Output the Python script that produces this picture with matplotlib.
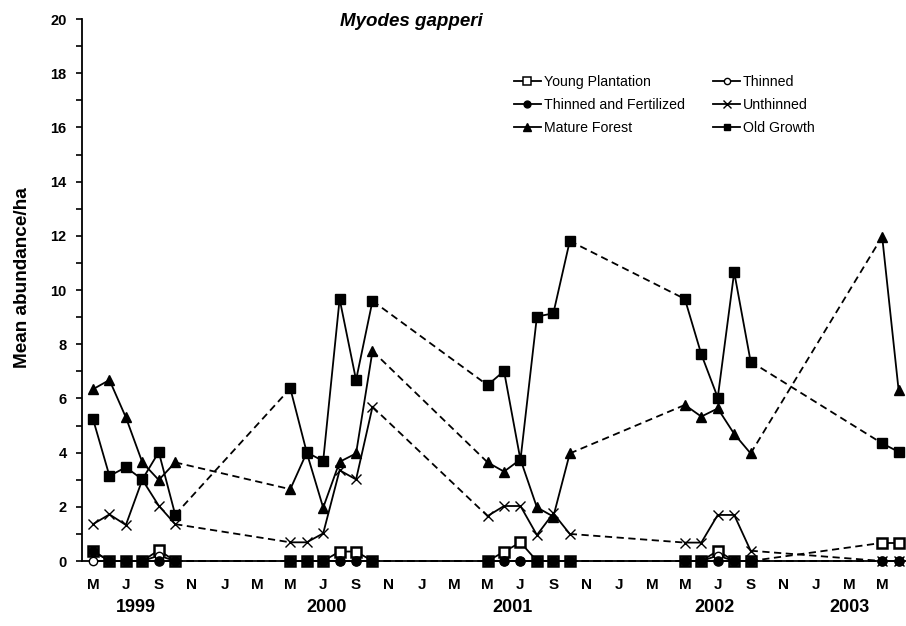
#!/usr/bin/env python3
"""
Myodes gapperi mean abundance per ha, 1999-2003, by stand type.
Solid lines join trapping months within a season, dashed lines join seasons.
"""

import matplotlib
matplotlib.use("Agg")
import matplotlib.pyplot as plt
from matplotlib.lines import Line2D


# ---- Values ----
# months counted from Jan 1999 (Jan 1999 = 0)
MONTHS = [4, 5, 6, 7, 8, 9,
          16, 17, 18, 19, 20, 21,
          28, 29, 30, 31, 32, 33,
          40, 41, 42, 43, 44,
          52, 53]
SEASON = [0] * 6 + [1] * 6 + [2] * 6 + [3] * 5 + [4] * 2

YOUNG = [0.37, 0, 0, 0, 0.40, 0,
         0, 0, 0, 0.35, 0.35, 0,
         0, 0.34, 0.69, 0, 0, 0,
         0, 0, 0.38, 0, 0,
         0.67, 0.67]
THINNED = [0, 0, 0, 0, 0.20, 0,
           0, 0, 0, 0, 0, 0,
           0, 0, 0, 0, 0, 0,
           0, 0, 0.20, 0, 0,
           0, 0]
THIN_FERT = [0.37, 0, 0, 0, 0, 0,
             0, 0, 0, 0, 0, 0,
             0, 0, 0, 0, 0, 0,
             0, 0, 0, 0, 0,
             0, 0]
UNTHINNED = [1.36, 1.72, 1.33, 3.00, 2.04, 1.36,
             0.69, 0.69, 1.02, 3.35, 3.01, 5.69,
             1.66, 2.03, 2.03, 0.96, 1.76, 1.00,
             0.68, 0.68, 1.70, 1.70, 0.38,
             0, 0]
MATURE = [6.34, 6.68, 5.30, 3.64, 2.99, 3.64,
          2.65, 4.00, 1.97, 3.66, 3.97, 7.75,
          3.64, 3.30, 3.75, 1.98, 1.64, 3.97,
          5.76, 5.33, 5.63, 4.69, 3.97,
          11.97, 6.31]
OLD = [5.24, 3.14, 3.46, 3.01, 4.02, 1.71,
       6.37, 4.01, 3.69, 9.67, 6.68, 9.60,
       6.49, 7.01, 3.73, 9.02, 9.14, 11.81,
       9.67, 7.63, 6.03, 10.66, 7.36,
       4.34, 4.03]

MONTH_TICKS = list(range(4, 53, 2))
MONTH_LETTERS = {0: "J", 2: "M", 4: "M", 6: "J", 8: "S", 10: "N"}
YEARS = ["1999", "2000", "2001", "2002", "2003"]
YEAR_POS = [6.6, 18.2, 29.5, 41.8, 50.0]

# name, values, marker style, draw order
SERIES = [
    ("Young Plantation", YOUNG, dict(marker="s", mfc="white", ms=6.8, mew=1.8), 3),
    ("Thinned", THINNED, dict(marker="o", mfc="white", ms=6, mew=1.0), 4),
    ("Thinned and Fertilized", THIN_FERT, dict(marker="o", mfc="black", ms=6.6), 6),
    ("Unthinned", UNTHINNED, dict(marker="x", ms=7.5, mew=1.0), 5),
    ("Mature Forest", MATURE, dict(marker="^", mfc="black", ms=7.5), 7),
    ("Old Growth", OLD, dict(marker="s", mfc="black", ms=6.5), 8),
]

FONT = "Liberation Sans"


def plot_series(ax, values, style, z):
    n_seasons = max(SEASON) + 1
    for s in range(n_seasons):
        idx = [i for i, k in enumerate(SEASON) if k == s]
        xs = [MONTHS[i] for i in idx]
        ys = [values[i] for i in idx]
        ax.plot(xs, ys, color="black", lw=1.3, ls="-", mec="black",
                clip_on=False, zorder=z, **style)
        if s + 1 < n_seasons:
            nxt = SEASON.index(s + 1)
            ax.plot([xs[-1], MONTHS[nxt]], [ys[-1], values[nxt]],
                    color="black", lw=1.3, ls=(0, (4, 2.5)),
                    clip_on=False, zorder=z - 0.5)


def main() -> None:
    plt.rcParams["font.family"] = FONT
    fig = plt.figure(figsize=(9.06, 6.26), dpi=100)
    ax = fig.add_axes([0.0905, 0.1038, 0.9095, 0.8658])

    handles = {}
    for name, values, style, z in SERIES:
        plot_series(ax, values, style, z)
        leg_style = {k: v for k, v in style.items() if k not in ("ms", "mew")}
        handles[name] = Line2D([], [], color="black", lw=1.3, mec="black",
                               ms=style["ms"] * 0.75,
                               mew=min(style.get("mew", 1.0), 1.1), **leg_style)

    ax.set_xlim(3.33, 53.45)
    ax.set_ylim(0, 20)
    ax.set_yticks(range(0, 21, 2))
    ax.set_yticks(range(1, 20, 2), minor=True)
    ax.tick_params(axis="y", which="major", direction="out", length=4,
                   width=1.2, pad=7, labelsize=10.5)
    ax.tick_params(axis="y", which="minor", direction="out", length=4, width=1.2)
    for lab in ax.get_yticklabels():
        lab.set_fontweight("bold")

    ax.set_xticks(MONTH_TICKS)
    ax.set_xticklabels([MONTH_LETTERS[m % 12] for m in MONTH_TICKS],
                       fontweight="bold", fontsize=11)
    ax.tick_params(axis="x", length=0, pad=12)

    for year, pos in zip(YEARS, YEAR_POS):
        ax.text(pos, -0.085, year, transform=ax.get_xaxis_transform(),
                ha="center", va="center", fontsize=13, fontweight="bold")

    for side in ("top", "right"):
        ax.spines[side].set_visible(False)
    for side in ("left", "bottom"):
        ax.spines[side].set_linewidth(1.3)

    ax.set_ylabel("Mean abundance/ha", fontsize=13.7, fontweight="bold")
    ax.yaxis.set_label_coords(-0.062, 0.522)

    fig.text(411 / 906, 1 - 22 / 626, "Myodes gapperi", ha="center", va="center",
             fontsize=13.5, fontweight="bold", fontstyle="italic")

    order = ["Young Plantation", "Thinned and Fertilized", "Mature Forest",
             "Thinned", "Unthinned", "Old Growth"]
    ax.legend([handles[n] for n in order], order, ncol=2, frameon=False,
              loc="upper left", bbox_to_anchor=(514 / 906, 1 - 75 / 626),
              bbox_transform=fig.transFigure, fontsize=10.2,
              handlelength=1.9, handletextpad=0.2, columnspacing=2.0,
              labelspacing=0.62, borderaxespad=0, borderpad=0)

    fig.savefig("out.png", dpi=100)
    plt.close(fig)


if __name__ == "__main__":
    main()
